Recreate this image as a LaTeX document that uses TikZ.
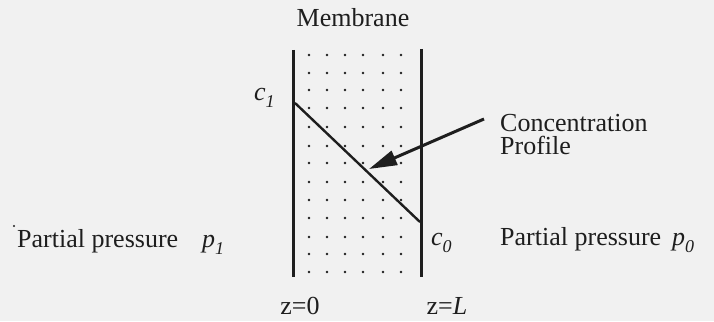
\documentclass[tikz,border=0pt]{standalone}
\usepackage{fontspec}
\setmainfont{Liberation Serif}
\usetikzlibrary{arrows.meta}
\definecolor{ink}{HTML}{1E1E1E}
\definecolor{paper}{HTML}{F1F1F1}
\newcommand{\isub}[1]{\raisebox{-7pt}{\fontsize{18}{18}\selectfont\itshape #1}}
\tikzset{
  lbl/.style={font=\fontsize{26}{28}\selectfont, text=ink, inner sep=0pt, anchor=base west},
  wall/.style={draw=ink, line width=3pt},
  prof/.style={draw=ink, line width=2.4pt},
  pointer/.style={draw=ink, line width=3pt, -{Triangle[length=28pt,width=15pt]}},
  dot/.style={fill=ink, draw=none}
}
\begin{document}
\begin{tikzpicture}[x=1pt,y=-1pt]
\fill[paper] (0,0) rectangle (714,321);
\useasboundingbox (0,0) rectangle (714,321);
% membrane walls
\coordinate (LT) at (293,50);
\coordinate (LB) at (293,277);
\coordinate (RT) at (421,49);
\coordinate (RB) at (421,277);
\draw[wall] (LT) -- (LB);
\draw[wall] (RT) -- (RB);
% dots
\foreach \xx in {309,327,345,363,383,401}{
  \foreach \yy in {55,73,90,108,127,146,163,182,200,218,237,254,272}{
    \fill[dot] (\xx,\yy) circle (1.4pt);
  }
}
% concentration profile
\coordinate (P1) at (295,103);
\coordinate (P0) at (420,222);
\draw[prof] (P1) -- (P0);
% arrow
\coordinate (As) at (484,119);
\coordinate (Ae) at (369,169);
\draw[pointer] (As) -- (Ae);
% labels
\node[lbl, anchor=base] (mem) at (353,27) {Membrane};
\node[lbl] (c1) at (254,100) {\textit{c}\isub{1}};
\node[lbl] (c0) at (431,245) {\textit{c}\isub{0}};
\node[lbl, align=left, font=\fontsize{26}{22.5}\selectfont] (conc) at (500,154) {Concentration\\Profile};
\node[lbl] (ppl) at (17,247) {Partial pressure};
\node[lbl] (p1) at (202,247) {\textit{p}\isub{1}};
\node[lbl] (ppr) at (500,245) {Partial pressure};
\node[lbl] (p0) at (672,245) {\textit{p}\isub{0}};
\node[lbl, anchor=base] (z0) at (300,314) {z=0};
\node[lbl, anchor=base] (zL) at (447,314) {z=\textit{L}};
\fill[ink] (14,226) circle (1.1pt);
\end{tikzpicture}
\end{document}
